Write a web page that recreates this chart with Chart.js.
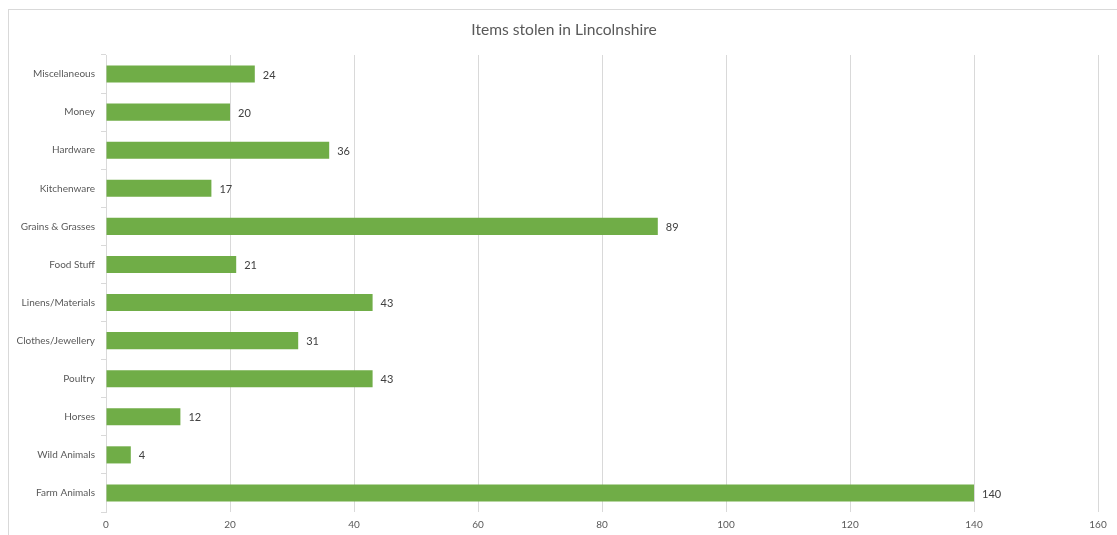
<!DOCTYPE html>
<html>
<head>
<meta charset="utf-8">
<script src="https://cdn.jsdelivr.net/npm/chart.js@4/dist/chart.umd.min.js"></script>
<style>
html,body{margin:0;padding:0;background:#fff;}
#wrap{position:absolute;left:0;top:0;width:1117px;height:535px;}
</style>
</head>
<body>
<div id="wrap"><canvas id="c" width="1117" height="535"></canvas></div>
<script>
const chartTitle = "Items stolen in Lincolnshire";
const categories = ["Miscellaneous","Money","Hardware","Kitchenware","Grains & Grasses","Food Stuff","Linens/Materials","Clothes/Jewellery","Poultry","Horses","Wild Animals","Farm Animals"];
const itemCounts = [24,20,36,17,89,21,43,31,43,12,4,140];
const xTicks = [0,20,40,60,80,100,120,140,160];

const FONT = "Lato, 'Open Sans', sans-serif";

const frame = {
  id: 'frame',
  beforeDraw(chart){
    const ctx = chart.ctx;
    ctx.save();
    ctx.fillStyle = '#fff';
    ctx.fillRect(0,0,chart.width,chart.height);
    ctx.strokeStyle = '#d9d9d9';
    ctx.lineWidth = 1;
    ctx.strokeRect(8.5, 9.5, 1130, 560);
    ctx.font = "15.6px " + FONT;
    ctx.fillStyle = '#595959';
    ctx.textAlign = 'center';
    ctx.textBaseline = 'middle';
    ctx.fillText(chartTitle, 564, 30);
    ctx.restore();
  }
};

const barLabels = {
  id: 'barLabels',
  afterDatasetsDraw(chart){
    const ctx = chart.ctx;
    const meta = chart.getDatasetMeta(0);
    ctx.save();
    ctx.font = "11px " + FONT;
    ctx.fillStyle = '#404040';
    ctx.textAlign = 'left';
    ctx.textBaseline = 'middle';
    meta.data.forEach((bar, i) => {
      ctx.fillText(String(itemCounts[i]), bar.x + 8, bar.y + 1);
    });
    ctx.restore();
  }
};

new Chart(document.getElementById('c'), {
  type: 'bar',
  data: {
    labels: categories,
    datasets: [{
      data: itemCounts,
      backgroundColor: '#70AD47',
      borderWidth: 0,
      barPercentage: 0.45,
      categoryPercentage: 1.0
    }]
  },
  options: {
    indexAxis: 'y',
    responsive: false,
    animation: false,
    events: [],
    layout: { padding: { left: 6, right: 19, top: 55, bottom: 0 } },
    plugins: {
      legend: { display: false },
      tooltip: { enabled: false },
      title: { display: false }
    },
    scales: {
      x: {
        min: 0, max: 160,
        afterBuildTicks(scale){ scale.ticks = xTicks.map(v => ({value: v})); },
        grid: { color: '#d9d9d9', lineWidth: 1, drawTicks: false },
        border: { display: false },
        ticks: { color: '#595959', font: { family: FONT, size: 10 }, padding: 7 },
        afterFit(scale){ scale.height = 23; }
      },
      y: {
        grid: { drawOnChartArea: false, color: '#d9d9d9', tickLength: 5, offset: true },
        border: { display: true, color: '#d9d9d9' },
        ticks: { color: '#595959', font: { family: FONT, size: 10 }, padding: 6 },
        afterFit(scale){ scale.width = 100; }
      }
    }
  },
  plugins: [frame, barLabels]
});
</script>
</body>
</html>
